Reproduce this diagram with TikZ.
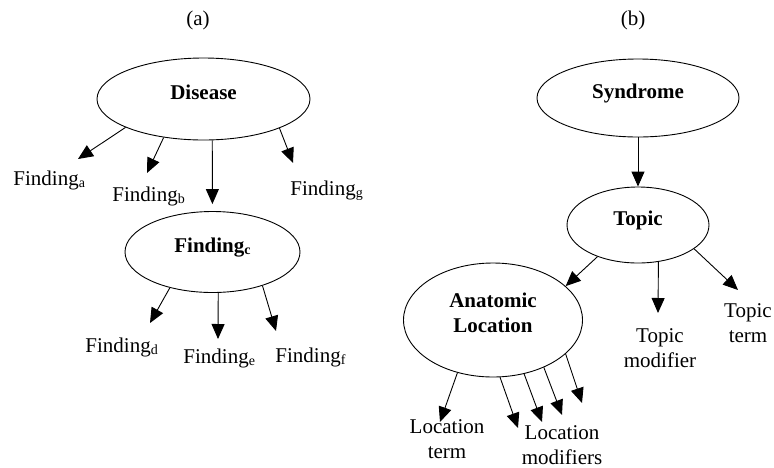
\documentclass[tikz,border=0pt]{standalone}
\usepackage{fontspec}
\setmainfont{Liberation Serif}
\usetikzlibrary{shapes.geometric,arrows.meta}
\newcommand\fsub[1]{\raisebox{-2.5pt}{\fontsize{14}{14}\selectfont #1}}
\begin{document}
\begin{tikzpicture}[x=1pt, y=-1pt, font=\fontsize{21}{24.5}\selectfont, line join=round, line width=.9pt, >={Triangle[length=15pt,width=13pt]},
 ell/.style={draw, ellipse, inner sep=0pt, font=\fontsize{21}{24.5}\selectfont\bfseries, text height=14pt, text depth=14pt},
 lbl/.style={inner sep=0pt, align=center}]
 \useasboundingbox (0,0) rectangle (774,467);
 % (a)
 \node[anchor=base] (capa) at (198,25) {(a)};
 \node[ell, minimum width=213pt, minimum height=82pt] (dis) at (203.5,99) {Disease};
 \node[ell, minimum width=175pt, minimum height=81pt] (fc) at (212.5,252) {Finding\fsub{c}};
 \node[lbl, anchor=base west] (fa) at (13,185) {Finding\fsub{a}};
 \node[lbl, anchor=base west] (fb) at (112,201) {Finding\fsub{b}};
 \node[lbl, anchor=base west] (fg) at (290,195) {Finding\fsub{g}};
 \node[lbl, anchor=base west] (fd) at (85,352) {Finding\fsub{d}};
 \node[lbl, anchor=base west] (fe) at (183,363) {Finding\fsub{e}};
 \node[lbl, anchor=base west] (ff) at (275,362) {Finding\fsub{f}};
 \coordinate (ta) at (78,159); \coordinate (tb) at (147,173); \coordinate (tg) at (293,163);
 \coordinate (td) at (150,323); \coordinate (te) at (218,339); \coordinate (tf) at (276,331);
 \draw[->] (dis.200) -- (ta);
 \draw[->] (dis.224) -- (tb);
 \draw[->, shorten >=7pt] (dis.-78) -- (fc);
 \draw[->] (dis.-21) -- (tg);
 \draw[->] (fc.220) -- (td);
 \draw[->] (fc.-82) -- (te);
 \draw[->] (fc.-34) -- (tf);
 % (b)
 \node[anchor=base] (capb) at (633,25) {(b)};
 \node[ell, minimum width=202pt, minimum height=78pt] (syn) at (638,98) {Syndrome};
 \node[ell, minimum width=142pt, minimum height=76pt] (top) at (638,225) {Topic};
 \node[ell, minimum width=179pt, minimum height=114pt, align=center, text height=38pt, text depth=14pt] (anat) at (493,320) {Anatomic\\Location};
 \node[lbl, anchor=base] (tmod) at (660,367) {Topic\\modifier};
 \node[lbl, anchor=base] (tterm) at (748,342) {Topic\\term};
 \node[lbl, anchor=base] (lterm) at (447,458) {Location\\term};
 \node[lbl, anchor=base] (lmod) at (562,464) {Location\\modifiers};
 \coordinate (ttm) at (658,313); \coordinate (ttt) at (738,290); \coordinate (tlt) at (440,422);
 \coordinate (lm1) at (518,428); \coordinate (lm2) at (542,422); \coordinate (lm3) at (562,415); \coordinate (lm4) at (582,403);
 \draw[->] (syn) -- (top);
 \draw[->] (top.218) -- (anat.25);
 \draw[->] (top.-61) -- (ttm);
 \draw[->] (top.-23) -- (ttt);
 \draw[->] (anat.236) -- (tlt);
 \foreach \a/\i in {-83/1,-60/2,-43/3,-25/4} \draw[->] (anat.\a) -- (lm\i);
\end{tikzpicture}
\end{document}
